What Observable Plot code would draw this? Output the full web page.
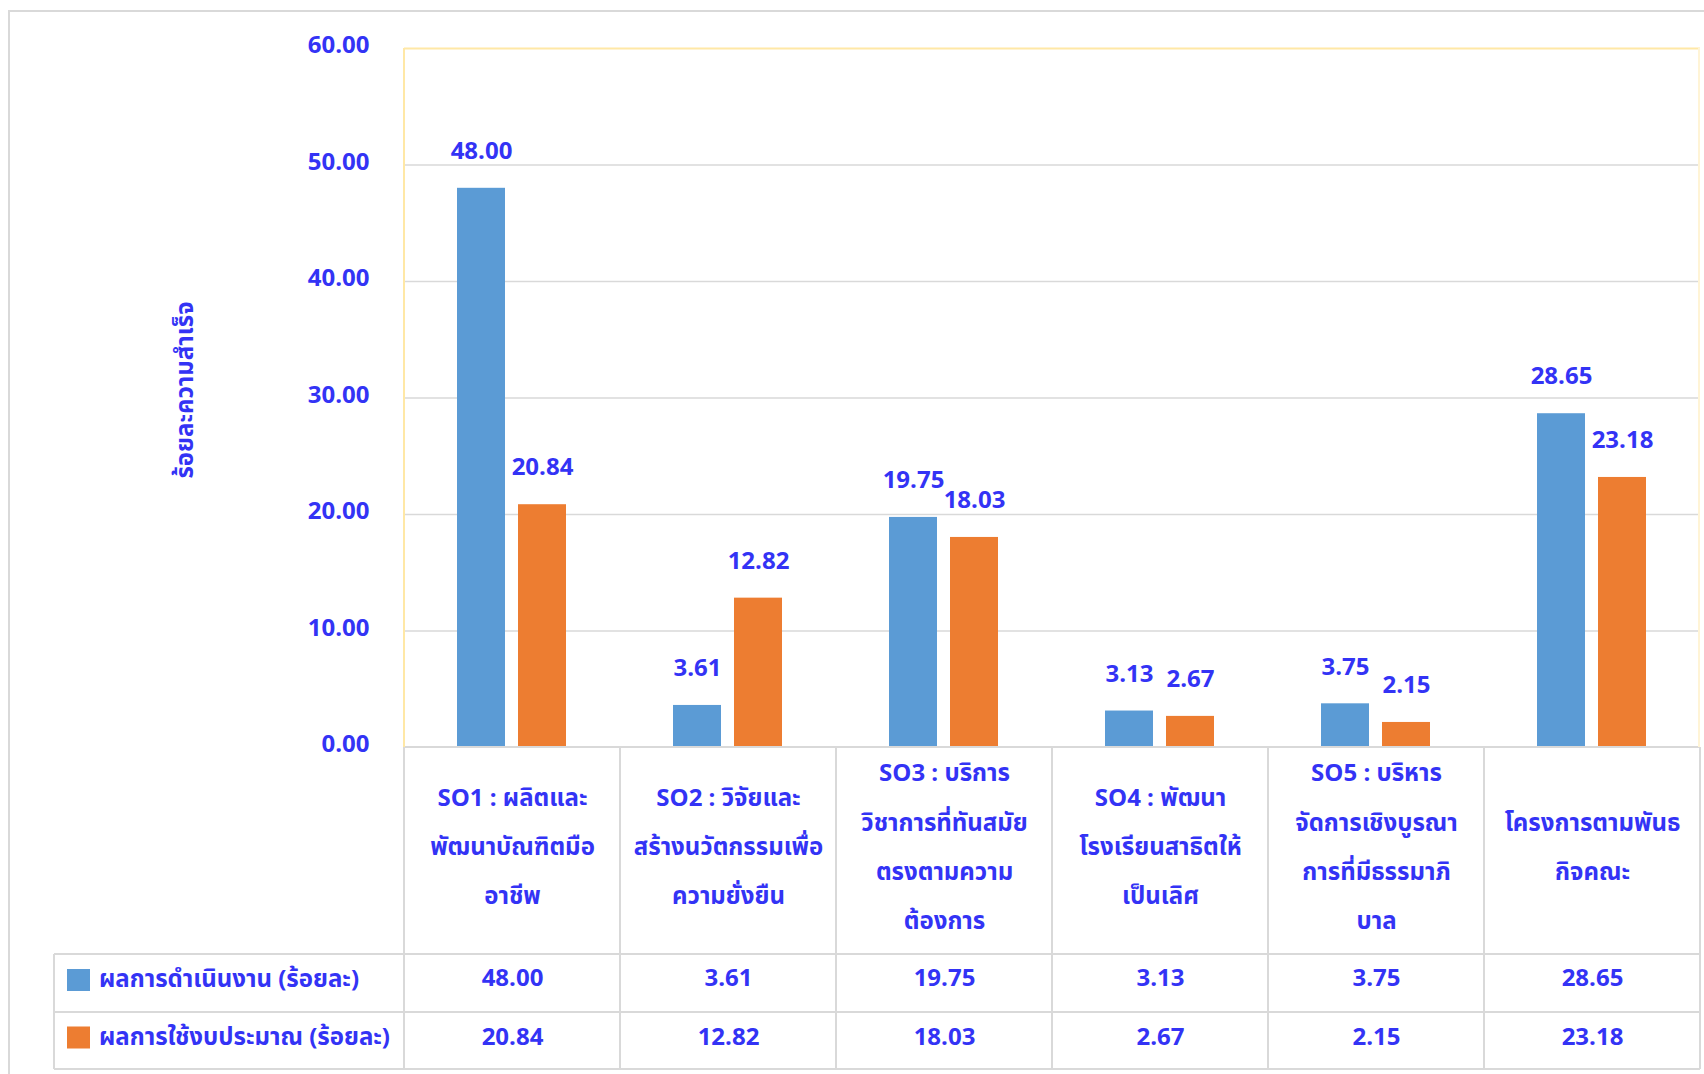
<!DOCTYPE html>
<html><head><meta charset="utf-8">
<script src="https://cdn.jsdelivr.net/npm/d3@7"></script>
<script src="https://cdn.jsdelivr.net/npm/@observablehq/plot@0.6"></script>
<style>
body{margin:0;background:#fff;overflow:hidden;}
#wrap{position:relative;width:1704px;height:1074px;overflow:hidden;background:#fff;}
#border{position:absolute;left:8px;top:10px;width:1740px;height:1120px;border:2px solid #d9d9d9;box-sizing:border-box;}
#chart{position:absolute;left:0;top:0;}
</style></head><body>
<div id="wrap"><div id="border"></div><div id="chart"></div></div>
<script>
const categories = [
  "SO1 : ผลิตและ\nพัฒนาบัณฑิตมือ\nอาชีพ",
  "SO2 : วิจัยและ\nสร้างนวัตกรรมเพื่อ\nความยั่งยืน",
  "SO3 : บริการ\nวิชาการที่ทันสมัย\nตรงตามความ\nต้องการ",
  "SO4 : พัฒนา\nโรงเรียนสาธิตให้\nเป็นเลิศ",
  "SO5 : บริหาร\nจัดการเชิงบูรณา\nการที่มีธรรมาภิ\nบาล",
  "โครงการตามพันธ\nกิจคณะ"
];
const seriesNames = ["ผลการดำเนินงาน (ร้อยละ)", "ผลการใช้งบประมาณ (ร้อยละ)"];
const performance = [48.00, 3.61, 19.75, 3.13, 3.75, 28.65];
const budget = [20.84, 12.82, 18.03, 2.67, 2.15, 23.18];
const yTicks = [0, 10, 20, 30, 40, 50, 60];
const gridTicks = [10, 20, 30, 40, 50];
const seriesColors = ["#5B9BD5", "#ED7D31"];
const yTitle = "ร้อยละความสำเร็จ";

const TXT = "#3333F5";
const FONT = "'Noto Sans Thai', 'Noto Sans Thai UI', 'Noto Sans', sans-serif";
const GRID = "#d9d9d9";
const YEL = "#FFE8A6";

const data = categories.flatMap((c, i) => [
  {cat: c, series: seriesNames[0], value: performance[i]},
  {cat: c, series: seriesNames[1], value: budget[i]}
]);
const fmt = v => v.toFixed(2);
const textOpts = {fill: TXT, fontSize: 24, fontWeight: "bold", lineAnchor: "middle"};

const plot = Plot.plot({
  width: 1704, height: 1074,
  marginLeft: 402, marginRight: 3, marginTop: 48, marginBottom: 327,
  style: {fontFamily: FONT, fontSize: "24px", fontWeight: "bold", color: TXT, background: "transparent"},
  fx: {domain: categories, padding: 0, axis: null},
  x: {domain: seriesNames, paddingInner: 0.21, paddingOuter: 0.85, axis: null},
  y: {domain: [0, 60]},
  color: {domain: seriesNames, range: seriesColors},
  marks: [
    Plot.gridY(gridTicks, {stroke: GRID, strokeOpacity: 1, strokeWidth: 1.5}),
    Plot.ruleY([60], {stroke: YEL, strokeWidth: 2}),
    Plot.axisY(yTicks, {tickFormat: fmt, tickSize: 0, tickPadding: 35, color: TXT, fontSize: 24, fontWeight: "bold", label: null, dy: -3}),
    Plot.barY(data, {fx: "cat", x: "series", y: "value", fill: "series"}),
    Plot.text(data, {fx: "cat", x: "series", y: "value", text: d => fmt(d.value), dy: -37, ...textOpts}),
    Plot.text(categories, {fx: d => d, frameAnchor: "bottom", dy: 92, text: d => d, lineHeight: 2.05, ...textOpts}),
    Plot.text(categories, {fx: d => d, frameAnchor: "bottom", dy: 231, text: (d, i) => fmt(performance[i]), ...textOpts}),
    Plot.text(categories, {fx: d => d, frameAnchor: "bottom", dy: 290, text: (d, i) => fmt(budget[i]), ...textOpts}),
    Plot.text([yTitle], {fx: [categories[0]], frameAnchor: "left", dx: -219, dy: -8, rotate: -90, textAnchor: "middle", ...textOpts})
  ]
});
document.getElementById("chart").appendChild(plot);

// table grid & legend, positioned from the plot's own scales
const fxS = plot.scale("fx"), yS = plot.scale("y"), colorS = plot.scale("color");
let xs = categories.map(c => fxS.apply(c));
const bw = fxS.bandwidth;
if (xs[0] < 200) xs = xs.map(v => v + 402);
const left = xs[0], right = xs[xs.length - 1] + bw;
const y0 = yS.apply(0), y60 = yS.apply(60);
const rowTop = y0 + 207, row2 = rowTop + 58, rowBot = row2 + 57, tableLeft = 54;
const svg = d3.select(plot);
const g = svg.append("g").attr("stroke", GRID).attr("stroke-width", 2);
g.append("line").attr("x1", left).attr("x2", right).attr("y1", y0).attr("y2", y0);
[rowTop, row2, rowBot].forEach(yy => g.append("line").attr("x1", tableLeft).attr("x2", right).attr("y1", yy).attr("y2", yy));
g.append("line").attr("x1", tableLeft).attr("x2", tableLeft).attr("y1", rowTop).attr("y2", rowBot);
xs.concat([right]).forEach(xx => g.append("line").attr("x1", xx).attr("x2", xx).attr("y1", y0).attr("y2", rowBot));
svg.append("line").attr("x1", left).attr("x2", left).attr("y1", y60).attr("y2", y0).attr("stroke", YEL).attr("stroke-width", 2);
svg.append("line").attr("x1", right - 1).attr("x2", right - 1).attr("y1", y60).attr("y2", y0).attr("stroke", "#FFF4D6").attr("stroke-width", 2);
const lg = svg.append("g");
seriesNames.forEach((s, i) => {
  const cy = i === 0 ? (rowTop + row2) / 2 - 4 : (row2 + rowBot) / 2 - 4;
  lg.append("rect").attr("x", 67).attr("y", cy - 10).attr("width", 23).attr("height", 22).attr("fill", colorS.apply(s));
  lg.append("text").attr("x", 99).attr("y", cy).attr("dy", "0.35em").attr("fill", TXT)
    .attr("text-anchor", "start").attr("font-size", 24).attr("font-weight", "bold").attr("font-family", FONT).text(s);
});
</script>
</body></html>
